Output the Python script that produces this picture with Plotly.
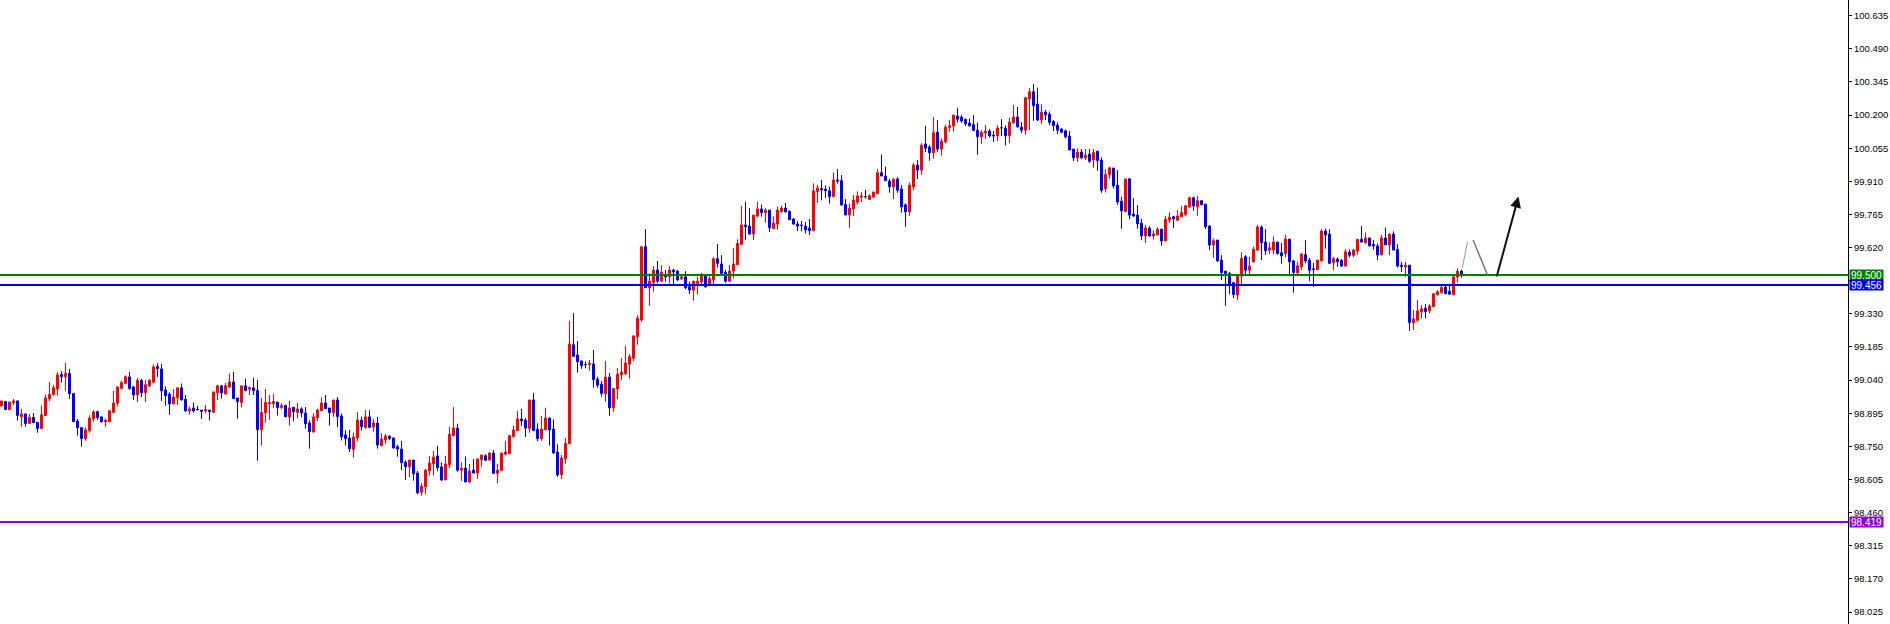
import plotly.graph_objects as go

open_prices = [
    98.927, 98.946, 98.911, 98.942, 98.949, 98.880, 98.892, 98.850, 98.877, 98.855,
    98.828, 98.885, 98.958, 98.977, 99.001, 99.064, 99.055, 99.069, 98.981, 98.861,
    98.832, 98.783, 98.819, 98.871, 98.902, 98.879, 98.858, 98.858, 98.899, 98.940,
    99.004, 99.026, 99.054, 99.010, 98.975, 99.038, 98.985, 99.016, 99.031, 99.099,
    99.089, 98.997, 98.979, 98.936, 98.963, 99.006, 98.956, 98.905, 98.918, 98.911,
    98.909, 98.905, 98.909, 98.899, 98.985, 99.015, 98.979, 99.009, 99.032, 98.962,
    98.942, 99.015, 99.000, 99.006, 98.994, 98.823, 98.898, 98.937, 98.937, 98.944,
    98.920, 98.930, 98.879, 98.921, 98.899, 98.914, 98.896, 98.852, 98.813, 98.876,
    98.906, 98.940, 98.918, 98.898, 98.953, 98.883, 98.800, 98.787, 98.737, 98.788,
    98.865, 98.833, 98.879, 98.835, 98.852, 98.753, 98.778, 98.795, 98.787, 98.749,
    98.738, 98.681, 98.661, 98.690, 98.633, 98.549, 98.573, 98.643, 98.674, 98.708,
    98.660, 98.603, 98.670, 98.797, 98.830, 98.646, 98.655, 98.594, 98.646, 98.633,
    98.692, 98.709, 98.690, 98.721, 98.632, 98.645, 98.716, 98.719, 98.792, 98.819,
    98.870, 98.865, 98.829, 98.953, 98.825, 98.784, 98.823, 98.874, 98.826, 98.725,
    98.626, 98.696, 98.762, 99.195, 99.150, 99.124, 99.108, 99.108, 99.111, 99.044,
    99.022, 98.980, 99.053, 98.919, 99.001, 99.063, 99.069, 99.110, 99.136, 99.230,
    99.303, 99.624, 99.444, 99.468, 99.522, 99.473, 99.500, 99.492, 99.522, 99.517,
    99.484, 99.492, 99.449, 99.434, 99.463, 99.470, 99.500, 99.460, 99.479, 99.571,
    99.548, 99.511, 99.473, 99.517, 99.545, 99.634, 99.719, 99.714, 99.679, 99.758,
    99.789, 99.773, 99.784, 99.703, 99.723, 99.777, 99.793, 99.779, 99.745, 99.723,
    99.719, 99.714, 99.706, 99.694, 99.865, 99.878, 99.876, 99.869, 99.843, 99.916,
    99.913, 99.809, 99.763, 99.790, 99.819, 99.841, 99.843, 99.830, 99.841, 99.856,
    99.948, 99.933, 99.911, 99.886, 99.920, 99.876, 99.807, 99.777, 99.886, 99.981,
    99.959, 100.073, 100.060, 100.035, 100.125, 100.051, 100.083, 100.146, 100.152, 100.196,
    100.191, 100.181, 100.165, 100.158, 100.134, 100.105, 100.123, 100.130, 100.112, 100.109,
    100.144, 100.143, 100.109, 100.166, 100.191, 100.147, 100.134, 100.271, 100.302, 100.248,
    100.178, 100.213, 100.204, 100.172, 100.156, 100.139, 100.131, 100.108, 100.051, 100.013,
    100.038, 100.013, 100.029, 100.003, 100.042, 100.003, 99.877, 99.940, 99.968, 99.893,
    99.823, 99.778, 99.921, 99.766, 99.762, 99.727, 99.671, 99.705, 99.671, 99.676,
    99.701, 99.649, 99.740, 99.755, 99.740, 99.755, 99.765, 99.799, 99.838, 99.799,
    99.825, 99.810, 99.714, 99.631, 99.653, 99.565, 99.517, 99.507, 99.466, 99.412,
    99.495, 99.580, 99.521, 99.558, 99.609, 99.710, 99.644, 99.609, 99.609, 99.644,
    99.597, 99.594, 99.657, 99.562, 99.511, 99.536, 99.589, 99.565, 99.527, 99.524,
    99.562, 99.692, 99.679, 99.554, 99.570, 99.564, 99.539, 99.600, 99.586, 99.605,
    99.657, 99.641, 99.662, 99.634, 99.627, 99.589, 99.662, 99.631, 99.679, 99.612,
    99.543, 99.536, 99.543, 99.291, 99.302, 99.339, 99.355, 99.343, 99.362, 99.415,
    99.424, 99.447, 99.429, 99.413, 99.491, 99.517,
]

high_prices = [
    98.949, 98.949, 98.946, 98.958, 98.951, 98.914, 98.894, 98.892, 98.896, 98.857,
    98.928, 98.977, 99.032, 99.019, 99.076, 99.079, 99.115, 99.089, 98.984, 98.870,
    98.833, 98.833, 98.886, 98.908, 98.906, 98.880, 98.871, 98.906, 98.993, 99.012,
    99.038, 99.060, 99.076, 99.015, 99.048, 99.045, 99.041, 99.045, 99.109, 99.115,
    99.111, 99.012, 98.987, 99.001, 99.007, 99.025, 98.975, 98.924, 98.942, 98.927,
    98.909, 98.931, 98.909, 98.990, 99.020, 99.019, 99.028, 99.069, 99.076, 98.962,
    99.015, 99.047, 99.013, 99.050, 99.041, 98.962, 99.001, 98.975, 98.979, 98.944,
    98.939, 98.930, 98.949, 98.921, 98.940, 98.921, 98.922, 98.864, 98.895, 98.915,
    98.965, 98.975, 98.918, 98.953, 98.966, 98.893, 98.820, 98.822, 98.810, 98.900,
    98.880, 98.909, 98.908, 98.870, 98.879, 98.807, 98.804, 98.797, 98.787, 98.757,
    98.773, 98.689, 98.690, 98.690, 98.642, 98.589, 98.652, 98.708, 98.731, 98.753,
    98.680, 98.709, 98.836, 98.922, 98.849, 98.681, 98.706, 98.673, 98.695, 98.695,
    98.714, 98.716, 98.724, 98.734, 98.673, 98.722, 98.773, 98.800, 98.841, 98.905,
    98.914, 98.874, 98.953, 98.984, 98.851, 98.883, 98.919, 98.876, 98.868, 98.759,
    98.712, 98.787, 99.300, 99.333, 99.211, 99.124, 99.121, 99.128, 99.172, 99.055,
    99.036, 99.123, 99.071, 99.003, 99.093, 99.136, 99.189, 99.154, 99.237, 99.324,
    99.624, 99.701, 99.507, 99.539, 99.561, 99.543, 99.522, 99.539, 99.527, 99.522,
    99.500, 99.517, 99.471, 99.475, 99.492, 99.510, 99.501, 99.500, 99.577, 99.636,
    99.587, 99.522, 99.543, 99.619, 99.656, 99.803, 99.821, 99.793, 99.765, 99.821,
    99.808, 99.792, 99.784, 99.757, 99.799, 99.803, 99.815, 99.783, 99.749, 99.736,
    99.736, 99.732, 99.745, 99.901, 99.895, 99.916, 99.892, 99.887, 99.949, 99.964,
    99.938, 99.833, 99.814, 99.850, 99.866, 99.863, 99.872, 99.853, 99.865, 99.964,
    100.027, 99.974, 99.921, 99.920, 99.928, 99.893, 99.813, 99.905, 99.991, 100.003,
    100.077, 100.153, 100.069, 100.191, 100.178, 100.098, 100.158, 100.178, 100.200, 100.232,
    100.201, 100.185, 100.185, 100.200, 100.168, 100.134, 100.156, 100.139, 100.130, 100.155,
    100.182, 100.155, 100.188, 100.244, 100.235, 100.169, 100.280, 100.318, 100.336, 100.320,
    100.248, 100.222, 100.216, 100.178, 100.169, 100.144, 100.136, 100.130, 100.051, 100.055,
    100.051, 100.051, 100.051, 100.051, 100.042, 100.015, 99.963, 99.974, 99.968, 99.959,
    99.842, 99.921, 99.924, 99.836, 99.806, 99.746, 99.718, 99.714, 99.696, 99.709,
    99.701, 99.759, 99.775, 99.759, 99.784, 99.802, 99.806, 99.843, 99.843, 99.846,
    99.828, 99.810, 99.719, 99.660, 99.653, 99.587, 99.517, 99.513, 99.470, 99.500,
    99.600, 99.587, 99.580, 99.624, 99.719, 99.717, 99.701, 99.643, 99.669, 99.644,
    99.641, 99.676, 99.657, 99.565, 99.559, 99.597, 99.653, 99.574, 99.554, 99.565,
    99.700, 99.704, 99.700, 99.580, 99.577, 99.570, 99.613, 99.612, 99.615, 99.657,
    99.714, 99.686, 99.662, 99.653, 99.638, 99.675, 99.708, 99.683, 99.691, 99.635,
    99.556, 99.558, 99.543, 99.346, 99.390, 99.368, 99.372, 99.372, 99.421, 99.434,
    99.453, 99.453, 99.453, 99.494, 99.529, 99.524,
]

low_prices = [
    98.924, 98.909, 98.909, 98.930, 98.863, 98.836, 98.836, 98.848, 98.852, 98.810,
    98.826, 98.883, 98.947, 98.972, 98.972, 99.029, 98.993, 98.958, 98.857, 98.797,
    98.749, 98.775, 98.810, 98.858, 98.866, 98.854, 98.836, 98.857, 98.896, 98.924,
    98.999, 99.022, 98.997, 98.953, 98.944, 98.965, 98.944, 99.010, 99.026, 99.054,
    98.949, 98.928, 98.888, 98.934, 98.931, 98.952, 98.902, 98.889, 98.898, 98.908,
    98.870, 98.895, 98.863, 98.898, 98.953, 98.959, 98.978, 99.009, 98.958, 98.871,
    98.920, 98.991, 98.974, 98.975, 98.687, 98.753, 98.854, 98.866, 98.918, 98.885,
    98.912, 98.877, 98.841, 98.860, 98.873, 98.877, 98.827, 98.740, 98.810, 98.861,
    98.905, 98.914, 98.841, 98.879, 98.835, 98.776, 98.753, 98.725, 98.700, 98.771,
    98.819, 98.827, 98.829, 98.814, 98.740, 98.752, 98.760, 98.778, 98.740, 98.705,
    98.646, 98.603, 98.616, 98.600, 98.540, 98.534, 98.541, 98.622, 98.622, 98.641,
    98.598, 98.603, 98.654, 98.795, 98.639, 98.598, 98.594, 98.589, 98.632, 98.608,
    98.661, 98.686, 98.689, 98.630, 98.589, 98.645, 98.711, 98.716, 98.789, 98.817,
    98.839, 98.791, 98.810, 98.817, 98.772, 98.775, 98.822, 98.753, 98.718, 98.617,
    98.607, 98.674, 98.760, 99.143, 99.073, 99.089, 99.092, 99.081, 99.007, 99.006,
    98.967, 98.945, 98.884, 98.901, 98.957, 99.040, 99.062, 99.046, 99.123, 99.195,
    99.295, 99.444, 99.365, 99.427, 99.463, 99.469, 99.471, 99.463, 99.459, 99.475,
    99.478, 99.437, 99.416, 99.387, 99.415, 99.459, 99.444, 99.460, 99.460, 99.533,
    99.500, 99.466, 99.469, 99.485, 99.544, 99.631, 99.653, 99.678, 99.653, 99.752,
    99.755, 99.730, 99.688, 99.701, 99.698, 99.773, 99.774, 99.741, 99.719, 99.692,
    99.691, 99.681, 99.675, 99.692, 99.815, 99.827, 99.837, 99.812, 99.841, 99.900,
    99.805, 99.761, 99.706, 99.758, 99.809, 99.819, 99.834, 99.830, 99.838, 99.854,
    99.933, 99.913, 99.860, 99.832, 99.860, 99.772, 99.711, 99.759, 99.871, 99.920,
    99.939, 100.038, 100.000, 100.009, 100.039, 100.022, 100.076, 100.127, 100.127, 100.168,
    100.166, 100.152, 100.149, 100.130, 100.026, 100.074, 100.095, 100.102, 100.083, 100.087,
    100.108, 100.066, 100.077, 100.163, 100.144, 100.121, 100.114, 100.134, 100.175, 100.174,
    100.160, 100.178, 100.156, 100.130, 100.117, 100.121, 100.098, 100.047, 99.998, 99.995,
    100.006, 100.003, 99.990, 99.969, 99.956, 99.860, 99.861, 99.921, 99.879, 99.807,
    99.702, 99.775, 99.744, 99.755, 99.702, 99.652, 99.641, 99.667, 99.655, 99.674,
    99.628, 99.648, 99.728, 99.706, 99.736, 99.755, 99.758, 99.792, 99.781, 99.759,
    99.805, 99.701, 99.609, 99.575, 99.558, 99.478, 99.365, 99.416, 99.399, 99.390,
    99.460, 99.495, 99.504, 99.554, 99.605, 99.565, 99.587, 99.592, 99.590, 99.589,
    99.549, 99.577, 99.504, 99.422, 99.501, 99.521, 99.551, 99.473, 99.448, 99.521,
    99.558, 99.615, 99.548, 99.521, 99.536, 99.536, 99.539, 99.577, 99.578, 99.589,
    99.643, 99.638, 99.624, 99.610, 99.565, 99.586, 99.631, 99.587, 99.609, 99.533,
    99.513, 99.492, 99.256, 99.259, 99.295, 99.310, 99.310, 99.332, 99.359, 99.410,
    99.419, 99.415, 99.413, 99.413, 99.467, 99.488,
]

close_prices = [
    98.949, 98.911, 98.944, 98.949, 98.885, 98.892, 98.850, 98.877, 98.854, 98.828,
    98.888, 98.962, 98.977, 99.007, 99.063, 99.055, 99.069, 98.981, 98.858, 98.832,
    98.784, 98.822, 98.874, 98.901, 98.876, 98.858, 98.864, 98.906, 98.940, 99.010,
    99.029, 99.055, 99.004, 98.975, 99.038, 98.985, 99.020, 99.038, 99.098, 99.090,
    98.993, 98.972, 98.936, 98.966, 99.006, 98.953, 98.905, 98.914, 98.905, 98.911,
    98.904, 98.911, 98.902, 98.988, 99.015, 98.984, 99.016, 99.032, 98.959, 98.946,
    99.015, 98.994, 99.007, 98.994, 98.823, 98.898, 98.942, 98.942, 98.946, 98.920,
    98.928, 98.880, 98.918, 98.902, 98.914, 98.896, 98.849, 98.814, 98.879, 98.909,
    98.940, 98.915, 98.898, 98.953, 98.880, 98.792, 98.784, 98.740, 98.791, 98.865,
    98.836, 98.879, 98.833, 98.852, 98.756, 98.782, 98.795, 98.784, 98.743, 98.738,
    98.679, 98.661, 98.690, 98.630, 98.547, 98.576, 98.646, 98.677, 98.703, 98.657,
    98.603, 98.673, 98.803, 98.830, 98.646, 98.655, 98.594, 98.642, 98.633, 98.695,
    98.712, 98.689, 98.721, 98.632, 98.646, 98.721, 98.725, 98.797, 98.822, 98.870,
    98.861, 98.830, 98.953, 98.819, 98.784, 98.826, 98.874, 98.822, 98.721, 98.625,
    98.699, 98.763, 99.198, 99.144, 99.121, 99.103, 99.108, 99.114, 99.042, 99.018,
    98.982, 99.053, 98.919, 99.003, 99.066, 99.075, 99.115, 99.142, 99.233, 99.311,
    99.624, 99.444, 99.473, 99.522, 99.473, 99.513, 99.492, 99.522, 99.513, 99.478,
    99.492, 99.444, 99.434, 99.473, 99.473, 99.500, 99.449, 99.484, 99.571, 99.551,
    99.507, 99.473, 99.517, 99.548, 99.638, 99.719, 99.711, 99.679, 99.762, 99.789,
    99.773, 99.784, 99.707, 99.727, 99.784, 99.793, 99.776, 99.742, 99.723, 99.714,
    99.716, 99.697, 99.694, 99.868, 99.881, 99.872, 99.869, 99.843, 99.916, 99.911,
    99.806, 99.763, 99.793, 99.828, 99.846, 99.846, 99.843, 99.847, 99.863, 99.948,
    99.933, 99.913, 99.886, 99.920, 99.871, 99.798, 99.777, 99.893, 99.981, 99.959,
    100.068, 100.055, 100.035, 100.123, 100.051, 100.086, 100.147, 100.153, 100.200, 100.182,
    100.174, 100.162, 100.153, 100.133, 100.105, 100.125, 100.130, 100.109, 100.109, 100.143,
    100.144, 100.109, 100.169, 100.191, 100.149, 100.134, 100.276, 100.302, 100.241, 100.178,
    100.213, 100.201, 100.168, 100.153, 100.134, 100.125, 100.105, 100.047, 100.013, 100.038,
    100.013, 100.025, 99.998, 100.036, 100.000, 99.871, 99.940, 99.969, 99.890, 99.820,
    99.781, 99.920, 99.762, 99.758, 99.724, 99.671, 99.706, 99.671, 99.680, 99.701,
    99.649, 99.744, 99.753, 99.746, 99.758, 99.773, 99.803, 99.838, 99.802, 99.825,
    99.808, 99.711, 99.631, 99.650, 99.562, 99.511, 99.507, 99.459, 99.415, 99.500,
    99.572, 99.521, 99.539, 99.613, 99.710, 99.641, 99.606, 99.619, 99.644, 99.594,
    99.584, 99.657, 99.558, 99.511, 99.540, 99.591, 99.561, 99.521, 99.524, 99.565,
    99.692, 99.675, 99.551, 99.571, 99.558, 99.539, 99.602, 99.586, 99.609, 99.656,
    99.644, 99.662, 99.628, 99.627, 99.587, 99.662, 99.632, 99.678, 99.609, 99.539,
    99.537, 99.543, 99.292, 99.307, 99.343, 99.352, 99.340, 99.365, 99.418, 99.427,
    99.445, 99.419, 99.416, 99.492, 99.516, 99.500,
]

# horizontal levels (price, colour)
level_prices = [99.500, 99.456, 98.419]
level_colors = ["#008000", "#0000FF", "#9400D3"]

# hand-drawn projection path (bar index, price) - three strokes
path_x = [365.2, 366.5, 367.9, 371.6, 373.7, 379.25]
path_y = [99.531, 99.644, 99.653, 99.496, 99.487, 99.843]

# price axis ticks
tick_start = 98.025
tick_step = 0.145

n = len(close_prices)
assert len(open_prices) == n and len(high_prices) == n and len(low_prices) == n
bar_index = list(range(n))
is_doji = [o == c for o, c in zip(open_prices, close_prices)]


def pick(seq, mask):
    return [v for v, m in zip(seq, mask) if m]


normal = [not d for d in is_doji]

fig = go.Figure()
fig.add_trace(go.Candlestick(
    x=pick(bar_index, normal),
    open=pick(open_prices, normal), high=pick(high_prices, normal),
    low=pick(low_prices, normal), close=pick(close_prices, normal),
    increasing=dict(line=dict(color="#FF0000", width=1), fillcolor="#FF0000"),
    decreasing=dict(line=dict(color="#0000FF", width=1), fillcolor="#0000FF"),
    whiskerwidth=0, hoverinfo="skip", showlegend=False,
))
fig.add_trace(go.Candlestick(
    x=pick(bar_index, is_doji),
    open=pick(open_prices, is_doji), high=pick(high_prices, is_doji),
    low=pick(low_prices, is_doji), close=pick(close_prices, is_doji),
    increasing=dict(line=dict(color="#000000", width=1), fillcolor="#000000"),
    decreasing=dict(line=dict(color="#000000", width=1), fillcolor="#000000"),
    whiskerwidth=0, hoverinfo="skip", showlegend=False,
))

shapes = []
annotations = []
for p, col in zip(level_prices, level_colors):
    shapes.append(dict(type="line", xref="paper", x0=0, x1=1, yref="y", y0=p, y1=p,
                       line=dict(color=col, width=2), layer="above"))
    annotations.append(dict(
        xref="paper", x=1, xanchor="left", xshift=1, yref="y", y=p, yanchor="middle",
        text=f"{p:.3f}", showarrow=False, bgcolor=col, borderpad=0,
        width=33, height=10, align="center", valign="middle",
        font=dict(family="Liberation Sans, Arial, sans-serif", size=10, color="#FFFFFF"),
    ))

# projection strokes
shapes.append(dict(type="line", xref="x", yref="y", x0=path_x[0], y0=path_y[0],
                   x1=path_x[1], y1=path_y[1], line=dict(color="#9A9A9A", width=1)))
shapes.append(dict(type="line", xref="x", yref="y", x0=path_x[2], y0=path_y[2],
                   x1=path_x[3], y1=path_y[3], line=dict(color="#6E6E6E", width=1.4)))
annotations.append(dict(
    x=path_x[5], y=path_y[5], xref="x", yref="y",
    ax=path_x[4], ay=path_y[4], axref="x", ayref="y",
    text="", showarrow=True, arrowhead=2, arrowsize=1.1, arrowwidth=2,
    arrowcolor="#111111", standoff=0, startstandoff=0,
))

fig.update_layout(
    width=1890, height=624,
    margin=dict(l=0, r=42, t=0, b=0),
    paper_bgcolor="#FFFFFF", plot_bgcolor="#FFFFFF",
    showlegend=False, hovermode=False,
    boxgap=0.3,
    shapes=shapes, annotations=annotations,
    xaxis=dict(visible=False, range=[-0.375, 461.625], rangeslider=dict(visible=False),
               fixedrange=True),
    yaxis=dict(
        side="right", range=[97.9726, 100.7035], fixedrange=True, automargin=False,
        tickmode="linear", tick0=tick_start, dtick=tick_step, tickformat=".3f",
        ticks="outside", ticklen=3, tickcolor="#000000", tickwidth=1,
        showline=True, linecolor="#000000", linewidth=1,
        showgrid=False, zeroline=False,
        tickfont=dict(family="Liberation Sans, Arial, sans-serif", size=9.5, color="#000000"),
    ),
)

fig.write_html(
    "out.html",
    config={"displayModeBar": False, "staticPlot": True},
    post_script="document.body.style.margin='0';document.body.style.overflow='hidden';",
)
